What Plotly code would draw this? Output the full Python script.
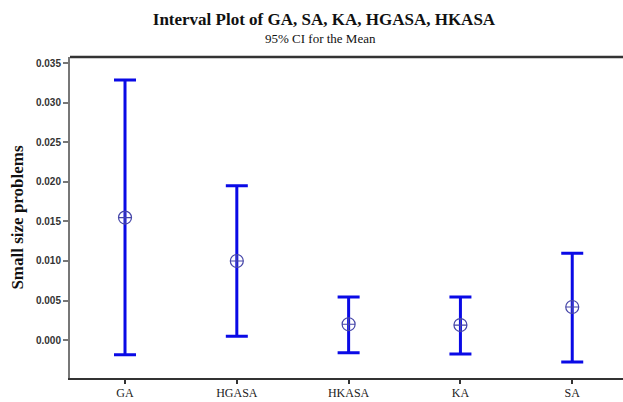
import plotly.graph_objects as go

categories = ["GA", "HGASA", "HKASA", "KA", "SA"]
means = [0.01549, 0.0100, 0.0020, 0.0019, 0.00418]
upper = [0.0329, 0.01951, 0.00545, 0.00545, 0.01098]
lower = [-0.00186, 0.00047, -0.0016, -0.00177, -0.00279]
y_ticks = [0.0, 0.005, 0.010, 0.015, 0.020, 0.025, 0.030, 0.035]

err_plus = [u - m for u, m in zip(upper, means)]
err_minus = [m - l for m, l in zip(means, lower)]
xidx = list(range(len(categories)))

W, H, ML, MR, MT, MB = 623, 402, 70, 0, 57, 24
plot_h = H - MT - MB

fig = go.Figure()
fig.add_trace(go.Scatter(
    x=xidx, y=means, mode="markers",
    marker=dict(symbol="circle-cross-open", size=13, color="#4545a8",
                line=dict(width=1.2, color="#4545a8")),
    error_y=dict(type="data", symmetric=False, array=err_plus, arrayminus=err_minus,
                 color="#0a0ae6", thickness=3, width=11),
    showlegend=False, hoverinfo="skip",
))

fig.update_layout(
    width=W, height=H,
    margin=dict(l=ML, r=MR, t=MT, b=MB),
    paper_bgcolor="white", plot_bgcolor="white",
    title=dict(text="<b>Interval Plot of GA, SA, KA, HGASA, HKASA</b>",
               x=0.52, xref="container", xanchor="center",
               y=1 - 19 / H, yref="container", yanchor="middle",
               font=dict(family="Liberation Serif", size=17, color="#111")),
    font=dict(family="Liberation Serif"),
)
fig.add_annotation(text="95% CI for the Mean", xref="paper", yref="paper",
                   x=(320 - ML) / (W - ML - MR), y=(H - MB - 38) / plot_h,
                   showarrow=False, xanchor="center", yanchor="middle",
                   font=dict(family="Liberation Serif", size=13, color="#111"))

fig.update_xaxes(
    range=[-0.492, 4.454], tickmode="array", tickvals=xidx, ticktext=categories,
    showline=True, linecolor="#333", linewidth=2, ticks="outside", ticklen=4,
    tickcolor="#333", tickwidth=1.5, showgrid=False, zeroline=False,
    ticklabelstandoff=-1,
    tickfont=dict(family="Liberation Serif", size=12, color="#222"),
)
fig.update_yaxes(
    range=[-0.0048, 0.0358], tickmode="array", tickvals=y_ticks,
    tickformat=".3f", showline=True, linecolor="#777", linewidth=2,
    ticks="outside", ticklen=5, tickcolor="#777", tickwidth=1.5,
    showgrid=False, zeroline=False,
    tickfont=dict(family="Liberation Sans", size=10, color="#333", weight="bold"),
    title=dict(text="<b>Small size problems</b>", standoff=8,
               font=dict(family="Liberation Serif", size=17, color="#111")),
)
fig.add_shape(type="line", xref="paper", yref="paper", x0=0, x1=1, y0=1, y1=1,
              line=dict(color="#333", width=2.5))

fig.write_html("out.html", config={"displayModeBar": False},
               post_script="document.body.style.margin='0';document.body.style.overflow='hidden';")
